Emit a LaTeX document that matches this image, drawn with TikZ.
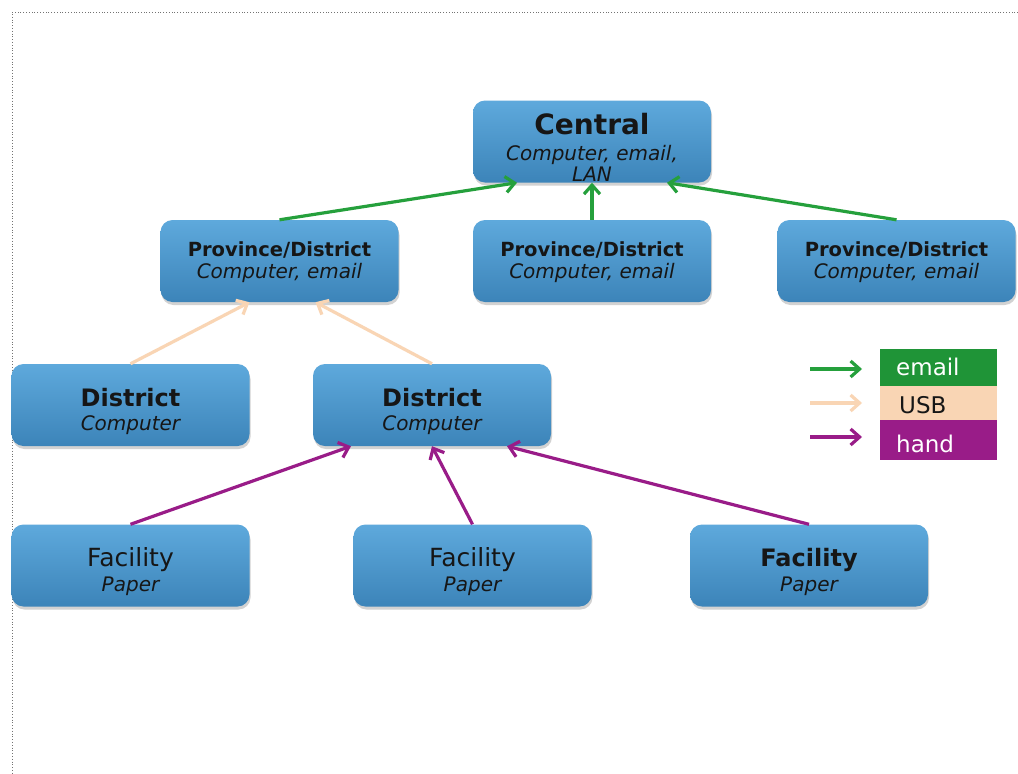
\documentclass[tikz,border=0pt]{standalone}
\usepackage{fontspec}
\setmainfont{DejaVu Sans}
\usetikzlibrary{arrows.meta,shadows}

\definecolor{boxtop}{HTML}{5EA9DC}
\definecolor{boxbot}{HTML}{3C84B9}
\definecolor{inkdark}{HTML}{161616}
\definecolor{mailgreen}{HTML}{25A03C}
\definecolor{legendgreen}{HTML}{1F9437}
\definecolor{usbpeach}{HTML}{F9D5B4}
\definecolor{handpurple}{HTML}{991C88}

\tikzset{
  x=1pt, y=-1pt,
  box/.style={rounded corners=12pt, minimum width=238pt, minimum height=82pt,
    inner sep=0pt, top color=boxtop, bottom color=boxbot, draw=none,
    drop shadow={shadow xshift=1pt, shadow yshift=-3pt, opacity=0.25, fill=black!70}},
  txt/.style={anchor=base, inner sep=0pt, text=inkdark},
  bigttl/.style={txt, font=\bfseries\fontsize{28}{30}\selectfont},
  midttl/.style={txt, font=\bfseries\fontsize{19.5}{22}\selectfont},
  distttl/.style={txt, font=\bfseries\fontsize{24}{26}\selectfont},
  facttl/.style={txt, font=\fontsize{25}{27}\selectfont},
  subttl/.style={txt, font=\itshape\fontsize{20}{22}\selectfont},
  flow/.style={line width=3.2pt, -{Straight Barb[length=9pt,width=16pt]}},
  mail/.style={flow, draw=mailgreen},
  usb/.style={flow, draw=usbpeach},
  hand/.style={flow, draw=handpurple},
  legendbox/.style={minimum width=117pt, inner sep=0pt, draw=none},
  legendtxt/.style={anchor=base west, inner sep=0pt, font=\fontsize{23}{26}\selectfont},
}

\begin{document}
\begin{tikzpicture}
\useasboundingbox (0,0) rectangle (1018,774);
\fill[white] (0,0) rectangle (1018,774);

% frame
\coordinate (fr-a) at (1018,12);
\coordinate (fr-b) at (12,12);
\coordinate (fr-c) at (12,774);
\draw[dotted, line width=0.8pt, black!55] (fr-a) -- (fr-b) -- (fr-c);

% boxes
\node[box] (cen) at (592,141.5) {};
\node[box] (pd1) at (279.5,261) {};
\node[box] (pd2) at (592,261) {};
\node[box] (pd3) at (896.5,261) {};
\node[box] (d1)  at (130.5,405) {};
\node[box] (d2)  at (432,405) {};
\node[box] (f1)  at (130.5,565.5) {};
\node[box] (f2)  at (472.5,565.5) {};
\node[box] (f3)  at (809,565.5) {};

% labels
\node[bigttl] (cen-t)  at (592,134) {Central};
\node[subttl] (cen-s1) at (592,160) {Computer, email,};
\node[subttl] (cen-s2) at (592,181) {LAN};

\node[midttl] (pd1-t) at (279.5,256.5) {Province/District};
\node[subttl] (pd1-s) at (279.5,278) {Computer, email};
\node[midttl] (pd2-t) at (592,256.5) {Province/District};
\node[subttl] (pd2-s) at (592,278) {Computer, email};
\node[midttl] (pd3-t) at (896.5,256.5) {Province/District};
\node[subttl] (pd3-s) at (896.5,278) {Computer, email};

\node[distttl] (d1-t) at (130.5,406.5) {District};
\node[subttl]  (d1-s) at (130.5,430) {Computer};
\node[distttl] (d2-t) at (432,406.5) {District};
\node[subttl]  (d2-s) at (432,430) {Computer};

\node[facttl] (f1-t) at (130.5,566.5) {Facility};
\node[subttl] (f1-s) at (130.5,591.5) {Paper};
\node[facttl] (f2-t) at (472.5,566.5) {Facility};
\node[subttl] (f2-s) at (472.5,591.5) {Paper};
\node[facttl, font=\bfseries\fontsize{24}{27}\selectfont] (f3-t) at (809,566.5) {Facility};
\node[subttl] (f3-s) at (809,591.5) {Paper};

% email links to the centre
\draw[mail] (pd1.north) -- ([xshift=-75pt]cen.south);
\draw[mail] (pd2.north) -- (cen.south);
\draw[mail] (pd3.north) -- ([xshift=75pt]cen.south);

% USB links
\draw[usb] (d1.north) -- ([xshift=-30pt]pd1.south);
\draw[usb] (d2.north) -- ([xshift=36pt]pd1.south);

% paper carried by hand
\draw[hand] (f1.north) -- ([xshift=-81pt]d2.south);
\draw[hand] (f2.north) -- (d2.south);
\draw[hand] (f3.north) -- ([xshift=75pt]d2.south);

% legend
\node[legendbox, fill=legendgreen, minimum height=37pt] (lg-mail) at (938.5,367.5) {};
\node[legendbox, fill=usbpeach, minimum height=34pt] (lg-usb) at (938.5,403) {};
\node[legendbox, fill=handpurple, minimum height=40pt] (lg-hand) at (938.5,440) {};
\node[legendtxt, text=white] (lg-mail-t) at (896,375) {email};
\node[legendtxt, text=inkdark] (lg-usb-t) at (899,413) {USB};
\node[legendtxt, text=white] (lg-hand-t) at (896,452) {hand};

\coordinate (la1) at (810,369);
\coordinate (lb1) at (862,369);
\coordinate (la2) at (810,403);
\coordinate (lb2) at (862,403);
\coordinate (la3) at (810,437);
\coordinate (lb3) at (862,437);
\draw[mail] (la1) -- (lb1);
\draw[usb]  (la2) -- (lb2);
\draw[hand] (la3) -- (lb3);
\end{tikzpicture}
\end{document}
